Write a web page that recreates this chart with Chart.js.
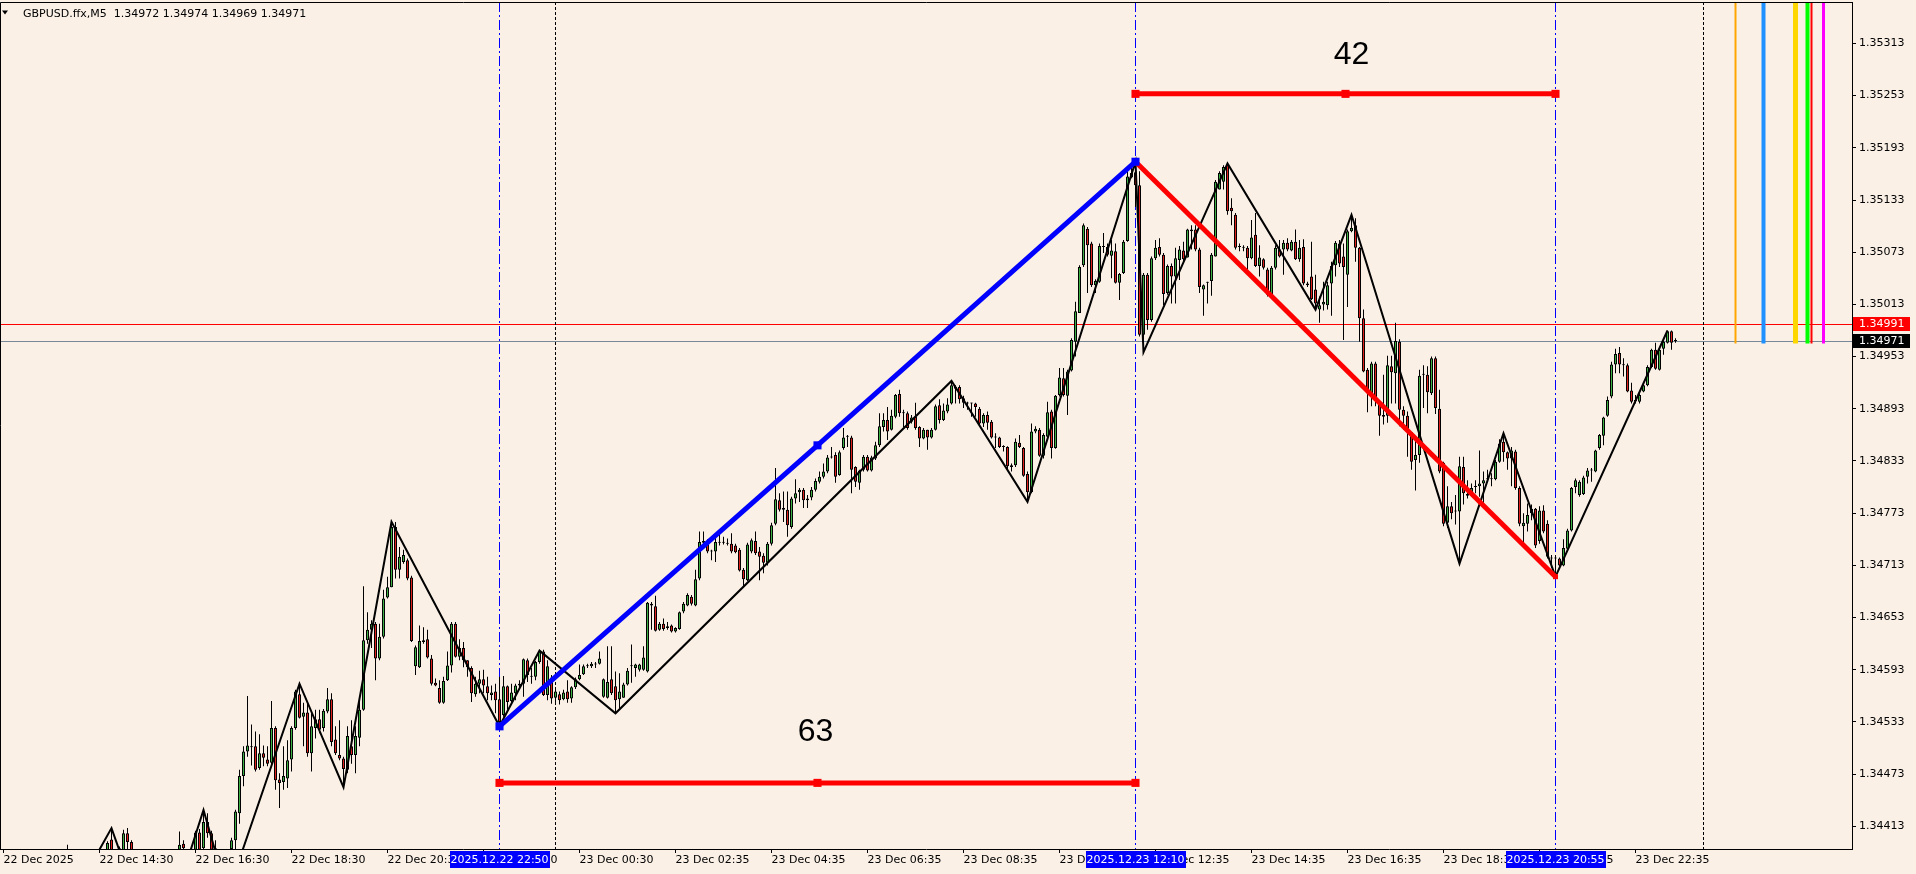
<!DOCTYPE html>
<html>
<head>
<meta charset="utf-8">
<title>GBPUSD.ffx,M5</title>
<script src="https://cdn.jsdelivr.net/npm/chart.js@4.4.1/dist/chart.umd.min.js"></script>
<style>
  html, body { margin: 0; padding: 0; background: #faf0e6; overflow: hidden; }
  #chartBox { width: 1916px; height: 874px; }
</style>
</head>
<body>
<div id="chartBox"><canvas id="myChart" width="1916" height="874"></canvas></div>
<script>
// ---------- data (bar index 0 = 22 Dec 12:30, M5) ----------
const symbolTitle = 'GBPUSD.ffx,M5  1.34972 1.34974 1.34969 1.34971';

const timeTickBars = [0, 24, 48, 72, 96, 120, 144, 168, 192, 216, 240, 264, 288, 312, 336, 360, 384, 408];
const timeLabels = ['22 Dec 2025', '22 Dec 14:30', '22 Dec 16:30', '22 Dec 18:30', '22 Dec 20:30', '22 Dec 22:30',
  '23 Dec 00:30', '23 Dec 02:35', '23 Dec 04:35', '23 Dec 06:35', '23 Dec 08:35', '23 Dec 10:35',
  '23 Dec 12:35', '23 Dec 14:35', '23 Dec 16:35', '23 Dec 18:35', '23 Dec 20:35', '23 Dec 22:35'];

const priceTicks = [1.34413, 1.34473, 1.34533, 1.34593, 1.34653, 1.34713, 1.34773, 1.34833,
  1.34893, 1.34953, 1.35013, 1.35073, 1.35133, 1.35193, 1.35253, 1.35313];

const opens = [
  null,null,null,null,null,null,null,null,null,null,
  null,null,null,null,null,null,1.34375,null,null,null,
  null,null,null,null,null,null,1.34385,1.34398,null,1.34385,
  1.34385,1.34405,1.34395,null,null,null,null,null,null,null,
  null,null,null,null,1.34386,1.34393,null,null,1.34386,1.34406,
  1.34388,1.34418,1.34405,1.34388,null,null,null,1.34387,1.34397,1.34428,
  1.34471,1.34499,1.34505,1.34505,1.34480,1.34497,1.34490,1.34486,1.34526,1.34467,
  1.34464,1.34468,1.34490,1.34526,1.34565,1.34539,1.34544,1.34497,1.34526,1.34536,
  1.34526,1.34545,1.34559,1.34513,1.34495,1.34491,1.34478,1.34505,1.34495,1.34515,
  1.34547,1.34627,1.34639,1.34646,1.34606,1.34631,1.34676,1.34688,1.34757,1.34708,
  1.34717,1.34719,1.34699,1.34597,1.34596,1.34625,1.34628,1.34606,1.34578,1.34572,
  1.34555,1.34581,1.34598,1.34646,1.34608,1.34618,1.34604,1.34595,1.34565,1.34577,
  1.34582,1.34574,1.34564,1.34568,1.34559,1.34541,1.34574,1.34557,1.34566,1.34575,
  1.34577,1.34604,1.34585,1.34585,1.34602,1.34614,1.34564,1.34584,1.34561,1.34565,
  1.34559,1.34568,1.34560,1.34573,1.34582,1.34588,1.34597,1.34597,1.34599,1.34600,
  1.34562,1.34561,1.34582,1.34574,1.34559,1.34561,1.34576,1.34597,1.34595,1.34593,
  1.34593,1.34591,1.34669,1.34666,1.34639,1.34646,1.34641,1.34644,1.34637,1.34640,
  1.34660,1.34667,1.34677,1.34667,1.34698,1.34739,1.34741,1.34729,1.34729,1.34739,
  1.34739,1.34739,1.34738,1.34736,1.34731,1.34708,1.34696,1.34729,1.34741,1.34729,
  1.34724,1.34716,1.34738,1.34761,1.34788,1.34779,1.34777,1.34757,1.34790,1.34797,
  1.34800,1.34790,1.34791,1.34800,1.34809,1.34815,1.34821,1.34837,1.34840,1.34817,
  1.34848,1.34861,1.34860,1.34826,1.34808,1.34823,1.34838,1.34822,1.34836,1.34851,
  1.34872,1.34880,1.34869,1.34884,1.34910,1.34888,1.34888,1.34878,1.34884,1.34872,
  1.34859,1.34869,1.34860,1.34869,1.34897,1.34880,1.34890,1.34899,1.34918,1.34918,
  1.34905,1.34899,1.34899,1.34899,1.34893,1.34876,1.34886,1.34878,1.34860,1.34860,
  1.34849,1.34849,1.34826,1.34828,1.34854,1.34848,1.34818,1.34797,1.34867,1.34869,
  1.34839,1.34861,1.34890,1.34848,1.34909,1.34928,1.34908,1.34937,1.34970,1.35003,
  1.35058,1.35100,1.35083,1.35035,1.35039,1.35079,1.35079,1.35069,1.35074,1.35038,
  1.35049,1.35086,1.35159,1.35165,1.35150,1.34978,1.35047,1.34995,1.35066,1.35079,
  1.35070,1.35026,1.35057,1.35045,1.35064,1.35075,1.35067,1.35097,1.35099,1.35076,
  1.35030,1.35038,1.35040,1.35068,1.35145,1.35154,1.35173,1.35124,1.35116,1.35079,
  1.35078,1.35078,1.35066,1.35093,1.35057,1.35065,1.35053,1.35024,1.35055,1.35076,
  1.35076,1.35084,1.35075,1.35085,1.35065,1.35079,1.35037,1.35045,1.35030,1.35007,
  1.35013,1.35012,1.35037,1.35058,1.35083,1.35068,1.35047,1.35097,1.35104,1.35078,
  1.34997,1.34938,1.34911,1.34945,1.34898,1.34886,1.34885,1.34942,1.34934,1.34970,
  1.34892,1.34885,1.34866,1.34834,1.34840,1.34932,1.34932,1.34911,1.34951,1.34893,
  1.34831,1.34762,1.34781,1.34775,1.34775,1.34826,1.34795,1.34793,1.34803,1.34804,
  1.34807,1.34812,1.34812,1.34812,1.34832,1.34855,1.34843,1.34836,1.34844,1.34802,
  1.34758,1.34761,1.34773,1.34778,1.34741,1.34776,1.34761,1.34721,1.34721,1.34721,
  1.34713,1.34732,1.34753,1.34803,1.34794,1.34795,1.34815,1.34822,1.34821,1.34848,
  1.34862,1.34885,1.34907,1.34944,1.34957,1.34943,1.34943,1.34914,1.34902,1.34901,
  1.34913,1.34920,1.34941,1.34961,1.34938,1.34962,1.34969,1.34982,1.34972
];

const highs = [
  null,null,null,null,null,null,null,null,null,null,
  null,null,null,null,null,null,1.34392,null,null,null,
  null,null,null,null,null,null,1.34396,1.34411,null,1.34390,
  1.34409,1.34411,1.34397,null,null,null,null,null,null,null,
  null,null,null,null,1.34407,1.34397,null,null,1.34408,1.34410,
  1.34430,1.34428,1.34408,1.34397,null,null,null,1.34400,1.34432,1.34478,
  1.34505,1.34563,1.34530,1.34522,1.34519,1.34506,1.34505,1.34557,1.34528,1.34474,
  1.34505,1.34512,1.34528,1.34570,1.34577,1.34555,1.34554,1.34543,1.34547,1.34547,
  1.34548,1.34572,1.34566,1.34528,1.34535,1.34493,1.34528,1.34535,1.34528,1.34556,
  1.34689,1.34659,1.34650,1.34648,1.34646,1.34685,1.34700,1.34763,1.34763,1.34734,
  1.34731,1.34721,1.34701,1.34621,1.34644,1.34642,1.34639,1.34610,1.34583,1.34581,
  1.34585,1.34614,1.34648,1.34648,1.34628,1.34625,1.34604,1.34597,1.34585,1.34592,
  1.34593,1.34585,1.34575,1.34577,1.34585,1.34586,1.34575,1.34577,1.34577,1.34581,
  1.34606,1.34606,1.34595,1.34603,1.34616,1.34616,1.34604,1.34587,1.34570,1.34568,
  1.34570,1.34581,1.34574,1.34584,1.34599,1.34599,1.34600,1.34602,1.34602,1.34614,
  1.34583,1.34620,1.34620,1.34591,1.34589,1.34578,1.34595,1.34622,1.34600,1.34600,
  1.34620,1.34671,1.34671,1.34678,1.34648,1.34652,1.34648,1.34645,1.34642,1.34660,
  1.34671,1.34681,1.34679,1.34708,1.34752,1.34752,1.34743,1.34731,1.34750,1.34750,
  1.34746,1.34744,1.34750,1.34738,1.34733,1.34710,1.34739,1.34744,1.34752,1.34734,
  1.34727,1.34740,1.34762,1.34825,1.34796,1.34798,1.34798,1.34792,1.34812,1.34802,
  1.34802,1.34794,1.34803,1.34813,1.34821,1.34830,1.34840,1.34849,1.34843,1.34845,
  1.34871,1.34863,1.34862,1.34827,1.34823,1.34840,1.34840,1.34839,1.34855,1.34888,
  1.34888,1.34895,1.34892,1.34910,1.34915,1.34892,1.34890,1.34886,1.34900,1.34873,
  1.34871,1.34869,1.34871,1.34898,1.34904,1.34899,1.34905,1.34925,1.34920,1.34920,
  1.34908,1.34901,1.34900,1.34900,1.34895,1.34888,1.34890,1.34880,1.34865,1.34861,
  1.34851,1.34850,1.34830,1.34859,1.34863,1.34849,1.34821,1.34876,1.34873,1.34871,
  1.34865,1.34901,1.34892,1.34909,1.34940,1.34940,1.34938,1.34974,1.35016,1.35058,
  1.35106,1.35102,1.35085,1.35042,1.35083,1.35095,1.35083,1.35087,1.35083,1.35049,
  1.35087,1.35166,1.35171,1.35177,1.35166,1.35049,1.35049,1.35068,1.35087,1.35089,
  1.35072,1.35059,1.35060,1.35078,1.35080,1.35085,1.35100,1.35104,1.35104,1.35078,
  1.35036,1.35039,1.35072,1.35156,1.35166,1.35173,1.35176,1.35135,1.35118,1.35083,
  1.35081,1.35080,1.35110,1.35118,1.35081,1.35066,1.35055,1.35057,1.35081,1.35087,
  1.35087,1.35089,1.35087,1.35099,1.35087,1.35088,1.35039,1.35085,1.35047,1.35022,
  1.35039,1.35039,1.35062,1.35086,1.35087,1.35083,1.35099,1.35115,1.35112,1.35079,
  1.35007,1.34940,1.34947,1.34947,1.34903,1.34932,1.34954,1.34954,1.34992,1.34973,
  1.34896,1.34890,1.34866,1.34859,1.34938,1.34943,1.34942,1.34953,1.34953,1.34915,
  1.34832,1.34804,1.34786,1.34794,1.34838,1.34838,1.34811,1.34807,1.34811,1.34845,
  1.34821,1.34823,1.34819,1.34834,1.34858,1.34865,1.34844,1.34849,1.34846,1.34804,
  1.34773,1.34784,1.34783,1.34779,1.34781,1.34782,1.34765,1.34725,1.34725,1.34722,
  1.34743,1.34755,1.34803,1.34813,1.34811,1.34816,1.34825,1.34825,1.34846,1.34864,
  1.34884,1.34907,1.34947,1.34962,1.34964,1.34951,1.34945,1.34923,1.34909,1.34911,
  1.34923,1.34943,1.34962,1.34969,1.34962,1.34972,1.34983,1.34983,1.34974
];

const lows = [
  null,null,null,null,null,null,null,null,null,null,
  null,null,null,null,null,null,1.34368,null,null,null,
  null,null,null,null,null,null,1.34380,1.34378,null,1.34380,
  1.34380,1.34386,1.34380,null,null,null,null,null,null,null,
  null,null,null,null,1.34382,1.34384,null,null,1.34382,1.34383,
  1.34384,1.34400,1.34382,1.34380,null,null,null,1.34383,1.34386,1.34416,
  1.34459,1.34493,1.34483,1.34476,1.34478,1.34482,1.34482,1.34482,1.34455,1.34434,
  1.34455,1.34457,1.34476,1.34524,1.34537,1.34505,1.34493,1.34476,1.34514,1.34520,
  1.34522,1.34543,1.34505,1.34495,1.34489,1.34459,1.34474,1.34485,1.34474,1.34505,
  1.34546,1.34623,1.34618,1.34581,1.34604,1.34629,1.34675,1.34688,1.34698,1.34698,
  1.34715,1.34696,1.34625,1.34587,1.34595,1.34623,1.34606,1.34575,1.34574,1.34554,
  1.34554,1.34580,1.34590,1.34607,1.34604,1.34596,1.34585,1.34556,1.34562,1.34566,
  1.34566,1.34558,1.34558,1.34543,1.34528,1.34539,1.34547,1.34556,1.34558,1.34572,
  1.34562,1.34579,1.34577,1.34581,1.34600,1.34563,1.34558,1.34554,1.34553,1.34553,
  1.34558,1.34555,1.34555,1.34571,1.34581,1.34587,1.34595,1.34595,1.34595,1.34599,
  1.34561,1.34560,1.34564,1.34543,1.34547,1.34561,1.34575,1.34578,1.34585,1.34591,
  1.34592,1.34590,1.34639,1.34637,1.34638,1.34638,1.34639,1.34636,1.34636,1.34639,
  1.34658,1.34666,1.34667,1.34666,1.34696,1.34738,1.34727,1.34719,1.34717,1.34736,
  1.34737,1.34736,1.34727,1.34727,1.34706,1.34688,1.34695,1.34727,1.34725,1.34696,
  1.34704,1.34713,1.34736,1.34759,1.34775,1.34763,1.34746,1.34755,1.34784,1.34786,
  1.34779,1.34779,1.34788,1.34798,1.34807,1.34813,1.34819,1.34836,1.34808,1.34816,
  1.34846,1.34849,1.34796,1.34803,1.34800,1.34821,1.34821,1.34821,1.34834,1.34849,
  1.34867,1.34857,1.34868,1.34882,1.34884,1.34872,1.34869,1.34876,1.34869,1.34849,
  1.34858,1.34846,1.34859,1.34868,1.34876,1.34879,1.34888,1.34898,1.34899,1.34899,
  1.34894,1.34892,1.34884,1.34884,1.34874,1.34872,1.34869,1.34859,1.34848,1.34848,
  1.34844,1.34823,1.34821,1.34826,1.34848,1.34815,1.34786,1.34796,1.34865,1.34838,
  1.34836,1.34860,1.34836,1.34847,1.34907,1.34907,1.34886,1.34936,1.34953,1.35003,
  1.35056,1.35026,1.35033,1.35026,1.35038,1.35072,1.35068,1.35043,1.35037,1.35018,
  1.35048,1.35085,1.35158,1.35125,1.34976,1.34958,1.34984,1.34993,1.35064,1.35068,
  1.35012,1.35024,1.35014,1.35014,1.35041,1.35063,1.35067,1.35076,1.35074,1.35026,
  1.35000,1.35014,1.35023,1.35068,1.35145,1.35145,1.35116,1.35104,1.35076,1.35074,
  1.35074,1.35051,1.35065,1.35056,1.35045,1.35053,1.35022,1.35022,1.35053,1.35067,
  1.35047,1.35074,1.35074,1.35064,1.35062,1.35035,1.35033,1.35018,1.35007,1.34992,
  1.35006,1.35007,1.35000,1.35045,1.35056,1.34972,1.35010,1.35096,1.35062,1.34970,
  1.34935,1.34889,1.34896,1.34896,1.34862,1.34875,1.34877,1.34899,1.34899,1.34873,
  1.34869,1.34838,1.34823,1.34799,1.34831,1.34894,1.34888,1.34909,1.34887,1.34819,
  1.34758,1.34756,1.34766,1.34760,1.34715,1.34783,1.34790,1.34792,1.34796,1.34792,
  1.34785,1.34809,1.34804,1.34811,1.34831,1.34832,1.34823,1.34804,1.34800,1.34758,
  1.34736,1.34752,1.34765,1.34733,1.34738,1.34750,1.34721,1.34710,1.34698,1.34712,
  1.34712,1.34730,1.34752,1.34796,1.34792,1.34794,1.34807,1.34809,1.34820,1.34846,
  1.34851,1.34884,1.34905,1.34934,1.34934,1.34930,1.34912,1.34899,1.34899,1.34899,
  1.34912,1.34919,1.34940,1.34938,1.34937,1.34955,1.34968,1.34961,1.34969
];

const closes = [
  null,null,null,null,null,null,null,null,null,null,
  null,null,null,null,null,null,1.34382,null,null,null,
  null,null,null,null,null,null,1.34394,1.34383,null,1.34388,
  1.34405,1.34395,1.34385,null,null,null,null,null,null,null,
  null,null,null,null,1.34392,1.34388,null,null,1.34406,1.34386,
  1.34418,1.34405,1.34386,1.34386,null,null,null,1.34397,1.34430,1.34471,
  1.34499,1.34506,1.34504,1.34478,1.34497,1.34492,1.34485,1.34526,1.34466,1.34463,
  1.34471,1.34489,1.34526,1.34568,1.34538,1.34544,1.34497,1.34528,1.34536,1.34524,
  1.34546,1.34559,1.34510,1.34497,1.34491,1.34479,1.34517,1.34495,1.34517,1.34547,
  1.34627,1.34639,1.34646,1.34606,1.34631,1.34675,1.34688,1.34757,1.34708,1.34723,
  1.34725,1.34698,1.34626,1.34619,1.34626,1.34627,1.34607,1.34577,1.34575,1.34555,
  1.34580,1.34598,1.34646,1.34608,1.34618,1.34604,1.34596,1.34566,1.34577,1.34582,
  1.34575,1.34566,1.34567,1.34558,1.34533,1.34574,1.34556,1.34567,1.34575,1.34577,
  1.34605,1.34587,1.34586,1.34602,1.34614,1.34564,1.34597,1.34560,1.34568,1.34558,
  1.34567,1.34559,1.34573,1.34582,1.34587,1.34597,1.34598,1.34600,1.34600,1.34606,
  1.34582,1.34579,1.34566,1.34558,1.34568,1.34576,1.34592,1.34598,1.34599,1.34599,
  1.34607,1.34670,1.34667,1.34638,1.34646,1.34640,1.34643,1.34637,1.34641,1.34659,
  1.34669,1.34679,1.34669,1.34697,1.34740,1.34741,1.34729,1.34729,1.34740,1.34740,
  1.34739,1.34738,1.34729,1.34728,1.34707,1.34697,1.34737,1.34742,1.34727,1.34723,
  1.34716,1.34738,1.34759,1.34789,1.34777,1.34777,1.34759,1.34790,1.34796,1.34800,
  1.34788,1.34788,1.34800,1.34810,1.34815,1.34821,1.34837,1.34838,1.34815,1.34843,
  1.34860,1.34862,1.34823,1.34809,1.34822,1.34838,1.34822,1.34837,1.34851,1.34873,
  1.34880,1.34867,1.34885,1.34909,1.34888,1.34888,1.34871,1.34883,1.34871,1.34859,
  1.34869,1.34860,1.34869,1.34896,1.34880,1.34891,1.34898,1.34920,1.34916,1.34904,
  1.34900,1.34899,1.34899,1.34895,1.34876,1.34886,1.34877,1.34860,1.34860,1.34849,
  1.34849,1.34827,1.34828,1.34855,1.34849,1.34816,1.34797,1.34867,1.34870,1.34839,
  1.34863,1.34889,1.34848,1.34908,1.34929,1.34909,1.34936,1.34972,1.35005,1.35056,
  1.35104,1.35081,1.35035,1.35040,1.35080,1.35079,1.35070,1.35075,1.35038,1.35048,
  1.35085,1.35160,1.35164,1.35150,1.34978,1.35047,1.34995,1.35066,1.35078,1.35070,
  1.35025,1.35057,1.35045,1.35066,1.35076,1.35065,1.35099,1.35099,1.35076,1.35033,
  1.35035,1.35038,1.35070,1.35154,1.35164,1.35171,1.35120,1.35120,1.35078,1.35079,
  1.35078,1.35066,1.35090,1.35057,1.35067,1.35055,1.35024,1.35055,1.35078,1.35068,
  1.35084,1.35076,1.35085,1.35065,1.35078,1.35037,1.35035,1.35019,1.35014,1.35012,
  1.35016,1.35035,1.35057,1.35084,1.35060,1.35056,1.35097,1.35101,1.35078,1.34997,
  1.34936,1.34911,1.34945,1.34905,1.34885,1.34884,1.34943,1.34935,1.34971,1.34892,
  1.34885,1.34866,1.34832,1.34840,1.34931,1.34932,1.34912,1.34951,1.34894,1.34821,
  1.34761,1.34781,1.34773,1.34775,1.34827,1.34796,1.34793,1.34802,1.34803,1.34807,
  1.34811,1.34812,1.34813,1.34832,1.34853,1.34843,1.34836,1.34845,1.34802,1.34761,
  1.34762,1.34771,1.34778,1.34736,1.34776,1.34752,1.34723,1.34721,1.34721,1.34713,
  1.34733,1.34753,1.34802,1.34811,1.34809,1.34814,1.34822,1.34822,1.34845,1.34863,
  1.34883,1.34903,1.34944,1.34956,1.34944,1.34943,1.34913,1.34901,1.34902,1.34909,
  1.34920,1.34941,1.34961,1.34939,1.34961,1.34970,1.34982,1.34969,1.34971
];

// zigzag pivots
const zigzagBars   = [22, 27, 30, 38, 45, 50, 56, 74, 85, 97, 124, 134, 153, 237, 256, 283, 285, 306, 328, 337, 364, 375, 388, 416];
const zigzagPrices = [1.34370, 1.34411, 1.34372, 1.34384, 1.34360, 1.34432, 1.34335, 1.34577, 1.34458, 1.34763, 1.34528,
  1.34615, 1.34543, 1.34925, 1.34786, 1.35177, 1.34958, 1.35175, 1.35007, 1.35116, 1.34715, 1.34865, 1.34700, 1.34983];

// drawn objects
const upTrendBars = [124, 203.5, 283];
const upTrendPrices = [1.34528, 1.34851, 1.35177];
const downTrendBars = [283, 388];
const downTrendPrices = [1.35177, 1.34700];
const span63Bars = [124, 203.5, 283];
const span63Price = 1.34463;
const span42Bars = [283, 335.5, 388];
const span42Price = 1.35255;
const noteTexts = ['63', '42'];
const noteBars = [203, 337];
const notePrices = [1.34511, 1.35289];

const markBars = [124, 283, 388];
const markLabels = ['2025.12.22 22:50', '2025.12.23 12:10', '2025.12.23 20:55'];
const daySepBars = [138, 425];

const futureBars = [433, 440, 448, 451, 452, 455];
const futureColors = ['#ffa500', '#1e90ff', '#ffd700', '#00ff00', '#ff0000', '#ff00ff'];
const futureWidths = [2, 4, 5, 4, 2, 3];
const futureEndPrice = 1.34968;

const alertPrice = 1.34991;
const bidPrice = 1.34971;

// view window
const X_MIN = -0.875, X_MAX = 462.125;
const Y_MIN = 1.343870, Y_MAX = 1.353606;

const BG = '#faf0e6';
const BULL = '#3cb043';
const BEAR = '#e0201c';
const AXIS_FONT = '11px "DejaVu Sans"';

// ---------- build datasets ----------
const wickData = [], bodyData = [], bodyColors = [];
for (let i = 0; i < opens.length; i++) {
  if (opens[i] == null) continue;
  wickData.push({ x: i, y: [lows[i], highs[i]] });
  bodyData.push({ x: i, y: [opens[i], closes[i]] });
  bodyColors.push(closes[i] >= opens[i] ? BULL : BEAR);
}
const toPts = (xs, ys) => xs.map((v, k) => ({ x: v, y: Array.isArray(ys) ? ys[k] : ys }));

const decor = {
  id: 'decor',
  beforeDraw(chart) {
    const c = chart.ctx;
    c.save();
    c.fillStyle = BG;
    c.fillRect(0, 0, chart.width, chart.height);
    c.restore();
  },
  beforeDatasetsDraw(chart) {
    const { ctx: c, chartArea: a, scales: { x, y } } = chart;
    c.save();
    c.lineWidth = 1;
    // horizontal alert / bid lines
    [[alertPrice, '#ff0000'], [bidPrice, '#778899']].forEach(([p, col]) => {
      const py = Math.round(y.getPixelForValue(p)) + 0.5;
      c.strokeStyle = col;
      c.beginPath(); c.moveTo(a.left, py); c.lineTo(a.right, py); c.stroke();
    });
    // day separators
    c.strokeStyle = '#000';
    c.setLineDash([3, 2]);
    daySepBars.forEach(b => {
      const px = Math.floor(x.getPixelForValue(b)) + 0.5;
      c.beginPath(); c.moveTo(px, a.top); c.lineTo(px, a.bottom); c.stroke();
    });
    // vertical markers
    c.strokeStyle = '#0000ff';
    c.setLineDash([10, 3, 2, 3]);
    markBars.forEach(b => {
      const px = Math.floor(x.getPixelForValue(b)) + 0.5;
      c.beginPath(); c.moveTo(px, a.top); c.lineTo(px, a.bottom); c.stroke();
    });
    c.restore();
  },
  afterDatasetsDraw(chart) {
    const { ctx: c, chartArea: a, scales: { x, y } } = chart;
    c.save();
    // coloured future lines
    const yEnd = y.getPixelForValue(futureEndPrice);
    futureBars.forEach((b, k) => {
      c.strokeStyle = futureColors[k];
      c.lineWidth = futureWidths[k];
      const px = x.getPixelForValue(b);
      c.beginPath(); c.moveTo(px, a.top); c.lineTo(px, yEnd); c.stroke();
    });
    // text notes
    c.fillStyle = '#000';
    c.font = '32px "Liberation Sans"';
    c.textAlign = 'center';
    c.textBaseline = 'alphabetic';
    noteTexts.forEach((t, k) => c.fillText(t, x.getPixelForValue(noteBars[k]), y.getPixelForValue(notePrices[k])));
    c.restore();
  },
  afterDraw(chart) {
    const { ctx: c, chartArea: a, scales: { x, y } } = chart;
    c.save();
    // frame top / left
    c.strokeStyle = '#000';
    c.lineWidth = 1;
    c.beginPath();
    c.moveTo(a.left + 0.5, a.bottom); c.lineTo(a.left + 0.5, a.top + 0.5); c.lineTo(a.right, a.top + 0.5);
    c.stroke();
    // header
    c.fillStyle = '#000';
    c.beginPath(); c.moveTo(2, 10.5); c.lineTo(8, 10.5); c.lineTo(5, 14.5); c.closePath(); c.fill();
    c.font = AXIS_FONT;
    c.textAlign = 'left';
    c.textBaseline = 'alphabetic';
    c.fillText(symbolTitle, 23, 17);
    // price tags on the axis
    [[alertPrice, '#ff0000'], [bidPrice, '#000000']].forEach(([p, col]) => {
      const py = Math.round(y.getPixelForValue(p));
      c.fillStyle = col;
      c.fillRect(a.right + 1, py - 7, 57, 14);
      c.fillStyle = '#fff';
      c.textBaseline = 'middle';
      c.fillText(p.toFixed(5), a.right + 7, py + 0.5);
    });
    // time tags
    c.textAlign = 'center';
    markBars.forEach((b, k) => {
      const px = x.getPixelForValue(b);
      const w = Math.round(c.measureText(markLabels[k]).width + 2);
      c.fillStyle = '#0000ff';
      c.fillRect(Math.round(px - w / 2), a.bottom + 2, w, 17);
      c.fillStyle = '#fff';
      c.fillText(markLabels[k], px, a.bottom + 11);
    });
    c.restore();
  }
};

new Chart(document.getElementById('myChart'), {
  type: 'bar',
  data: {
    datasets: [
      { type: 'line', data: toPts(upTrendBars, upTrendPrices), borderColor: '#0000ff', backgroundColor: '#0000ff',
        borderWidth: 5, pointStyle: 'rect', pointRadius: 5.7, pointBorderWidth: 0, tension: 0, order: 0 },
      { type: 'line', data: toPts(downTrendBars, downTrendPrices), borderColor: '#ff0000', backgroundColor: '#ff0000',
        borderWidth: 5, pointStyle: 'rect', pointRadius: [0, 3.5], pointBorderWidth: 0, tension: 0, order: 1 },
      { type: 'line', data: toPts(span63Bars, span63Price), borderColor: '#ff0000', backgroundColor: '#ff0000',
        borderWidth: 5, pointStyle: 'rect', pointRadius: 5.7, pointBorderWidth: 0, tension: 0, order: 1 },
      { type: 'line', data: toPts(span42Bars, span42Price), borderColor: '#ff0000', backgroundColor: '#ff0000',
        borderWidth: 5, pointStyle: 'rect', pointRadius: 5.7, pointBorderWidth: 0, tension: 0, order: 1 },
      { type: 'line', data: toPts(zigzagBars, zigzagPrices), borderColor: '#000', borderWidth: 2,
        pointRadius: 0, tension: 0, order: 2 },
      { data: bodyData, backgroundColor: bodyColors, borderColor: '#000', borderWidth: 1, borderSkipped: false,
        barThickness: 3, minBarLength: 1, grouped: false, inflateAmount: 0, order: 3 },
      { data: wickData, backgroundColor: '#000', borderWidth: 0, barThickness: 1,
        grouped: false, inflateAmount: 0, order: 4 }
    ]
  },
  options: {
    responsive: false,
    animation: false,
    devicePixelRatio: 1,
    events: [],
    layout: { autoPadding: false, padding: { top: 2, left: 0, right: 0, bottom: 0 } },
    plugins: { legend: { display: false }, tooltip: { enabled: false } },
    scales: {
      x: {
        type: 'linear', position: 'bottom', min: X_MIN, max: X_MAX, offset: false,
        grid: { display: true, drawOnChartArea: false, tickLength: 4, color: '#000', offset: false },
        border: { display: true, color: '#000' },
        ticks: { autoSkip: false, maxRotation: 0, minRotation: 0, align: 'start', padding: 1, color: '#000',
          font: { family: 'DejaVu Sans', size: 11 }, callback: (v, i) => timeLabels[i] },
        afterBuildTicks: s => { s.ticks = timeTickBars.map(v => ({ value: v })); },
        afterFit: s => { s.height = 25; s.paddingLeft = 0; s.paddingRight = 0; }
      },
      y: {
        type: 'linear', position: 'right', min: Y_MIN, max: Y_MAX,
        grid: { display: true, drawOnChartArea: false, tickLength: 4, color: '#000' },
        border: { display: true, color: '#000' },
        ticks: { autoSkip: false, padding: 3, color: '#000', font: { family: 'DejaVu Sans', size: 11 },
          callback: v => v.toFixed(5) },
        afterBuildTicks: s => { s.ticks = priceTicks.map(v => ({ value: v })); },
        afterFit: s => { s.width = 64; s.paddingTop = 0; s.paddingBottom = 0; }
      }
    }
  },
  plugins: [decor]
});
</script>
</body>
</html>
